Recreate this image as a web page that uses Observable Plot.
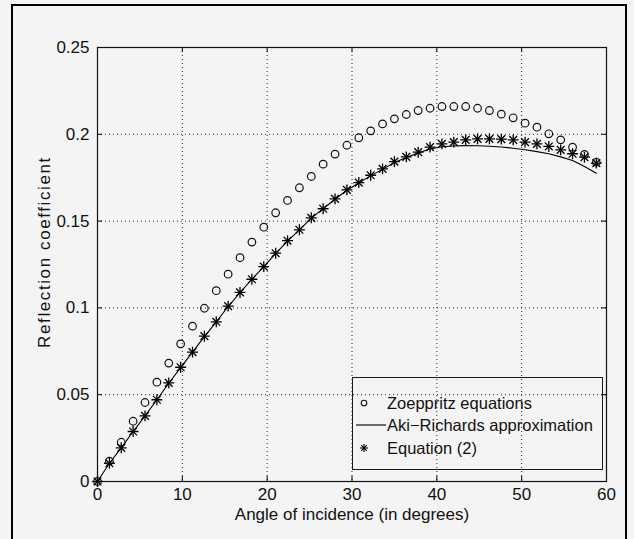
<!DOCTYPE html>
<html>
<head>
<meta charset="utf-8">
<script src="https://cdn.jsdelivr.net/npm/d3@7"></script>
<script src="https://cdn.jsdelivr.net/npm/@observablehq/plot@0.6"></script>
<style>
  html, body { margin: 0; padding: 0; background: #f4f4f4; }
  #wrap { position: relative; width: 634px; height: 539px; overflow: hidden; background: #f4f4f4; }
  #border { position: absolute; left: 11px; top: 4px; width: 616px; height: 600px; border: 2px solid #000; box-sizing: border-box; pointer-events: none; }
  #legend { position: absolute; left: 352px; top: 377px; width: 251px; height: 93px; border: 1px solid #1a1a1a; box-sizing: border-box; font: 16.5px "Liberation Sans", Arial, sans-serif; color: #111; }
  .row { position: absolute; left: 0; height: 22px; width: 100%; }
  .row svg { position: absolute; left: 3px; top: 0; }
  .row span { position: absolute; left: 34px; top: 2px; white-space: nowrap; line-height: 18px; }
</style>
</head>
<body>
<div id="wrap">
  <div id="chart"></div>
  <div id="legend"></div>
  <div id="border"></div>
</div>
<script>
// ---- data ----
const angles = [0, 1.4, 2.8, 4.2, 5.6, 7.0, 8.4, 9.8, 11.2, 12.6, 14.0, 15.4, 16.8, 18.2, 19.6,
  21.0, 22.4, 23.8, 25.2, 26.6, 28.0, 29.4, 30.8, 32.2, 33.6, 35.0, 36.4, 37.8, 39.2, 40.6,
  42.0, 43.4, 44.8, 46.2, 47.6, 49.0, 50.4, 51.8, 53.2, 54.6, 56.0, 57.4, 58.8];

const zoeppritz = [0, 0.0117, 0.0226, 0.0347, 0.0455, 0.0572, 0.0682, 0.0793, 0.0895, 0.0998,
  0.1099, 0.1194, 0.1289, 0.1379, 0.1465, 0.1548, 0.1619, 0.1692, 0.1757, 0.1828,
  0.1886, 0.1937, 0.1980, 0.2020, 0.2060, 0.2089, 0.2114, 0.2137, 0.2150, 0.2160,
  0.2160, 0.2160, 0.2150, 0.2137, 0.2116, 0.2095, 0.2064, 0.2041, 0.2003, 0.1968,
  0.1926, 0.1884, 0.1839];

const akiRichards = [0, 0.0105, 0.0194, 0.0288, 0.0378, 0.0471, 0.0566, 0.0656, 0.0745, 0.0835,
  0.0920, 0.1008, 0.1088, 0.1165, 0.1238, 0.1313, 0.1385, 0.1450, 0.1517, 0.1571,
  0.1626, 0.1678, 0.1720, 0.1762, 0.1798, 0.1838, 0.1866, 0.1893, 0.1915, 0.1928,
  0.1933, 0.1935, 0.1934, 0.1931, 0.1927, 0.1920, 0.1911, 0.1900, 0.1888, 0.1870,
  0.1849, 0.1815, 0.1776];

const equation2 = [0, 0.0105, 0.0194, 0.0288, 0.0378, 0.0471, 0.0568, 0.0658, 0.0745, 0.0837,
  0.0920, 0.1010, 0.1089, 0.1165, 0.1238, 0.1315, 0.1387, 0.1450, 0.1519, 0.1571,
  0.1628, 0.1680, 0.1722, 0.1764, 0.1801, 0.1843, 0.1870, 0.1897, 0.1926, 0.1945,
  0.1955, 0.1968, 0.1974, 0.1974, 0.1972, 0.1968, 0.1955, 0.1945, 0.1930, 0.1910,
  0.1888, 0.1868, 0.1834];

const xTicks = [0, 10, 20, 30, 40, 50, 60];
const yTicks = [0, 0.05, 0.1, 0.15, 0.2, 0.25];
const yTickLabels = ["0", "0.05", "0.1", "0.15", "0.2", "0.25"];

const seriesNames = ["Zoeppritz equations", "Aki\u2212Richards approximation", "Equation (2)"];
const xLabel = "Angle of incidence (in degrees)";
const yLabel = "Reflection coefficient";

// ---- chart ----
const toRows = vals => angles.map((a, i) => ({angle: a, value: vals[i]}));
const W = 634, H = 539, mL = 97, mR = 28, mT = 47, mB = 58;
const innerW = W - mL - mR, innerH = H - mT - mB;
const tickLen = 5;
const font = '"Liberation Sans", Arial, sans-serif';

const chart = Plot.plot({
  width: W, height: H,
  marginLeft: mL, marginRight: mR, marginTop: mT, marginBottom: mB,
  style: {background: "transparent", fontFamily: font, fontSize: "17px", color: "#111"},
  x: {domain: [0, 60]},
  y: {domain: [0, 0.25]},
  marks: [
    Plot.gridX(xTicks, {stroke: "#000", strokeOpacity: 0.85, strokeDasharray: "1,3"}),
    Plot.gridY(yTicks, {stroke: "#000", strokeOpacity: 0.85, strokeDasharray: "1,3"}),
    Plot.tickX(xTicks, {x: d => d, insetTop: innerH - tickLen, stroke: "#000"}),
    Plot.tickX(xTicks, {x: d => d, insetBottom: innerH - tickLen, stroke: "#000"}),
    Plot.tickY(yTicks, {y: d => d, insetRight: innerW - tickLen, stroke: "#000"}),
    Plot.tickY(yTicks, {y: d => d, insetLeft: innerW - tickLen, stroke: "#000"}),
    Plot.frame({stroke: "#111", strokeWidth: 1.2}),
    Plot.axisX(xTicks, {tickSize: 0, tickPadding: 6, fontSize: 17,
      label: xLabel, labelAnchor: "center", labelArrow: "none", labelOffset: 38}),
    Plot.axisY(yTicks, {tickSize: 0, tickPadding: 8, fontSize: 17,
      tickFormat: d => yTickLabels[yTicks.indexOf(d)],
      label: null}),
    Plot.line(toRows(akiRichards), {x: "angle", y: "value", stroke: "#000", strokeWidth: 1.1}),
    Plot.dot(toRows(zoeppritz), {x: "angle", y: "value", r: 3.8, stroke: "#111", fill: "none", strokeWidth: 1.2}),
    Plot.dot(toRows(equation2), {x: "angle", y: "value", symbol: "plus", r: 3.6, stroke: "#000", strokeWidth: 1.3}),
    Plot.dot(toRows(equation2), {x: "angle", y: "value", symbol: "times", r: 3.6, stroke: "#000", strokeWidth: 1.3})
  ]
});
document.getElementById("chart").appendChild(chart);

// y-axis title, placed with the chart's own frame geometry
const svg = d3.select(chart);
svg.append("text")
  .attr("transform", `translate(${mL - 47},${mT + innerH / 2 - 12}) rotate(-90)`)
  .attr("text-anchor", "middle")
  .attr("font-family", font)
  .attr("font-size", 17)
  .attr("letter-spacing", 1.6)
  .attr("fill", "#111")
  .text(yLabel);

// ---- legend (transparent box, like MATLAB) ----
const legend = document.getElementById("legend");
const symbols = [
  '<svg width="30" height="22"><circle cx="8" cy="11" r="2.8" fill="none" stroke="#111" stroke-width="1.1"/></svg>',
  '<svg width="30" height="22"><line x1="0" y1="11" x2="30" y2="11" stroke="#000" stroke-width="1.1"/></svg>',
  '<svg width="30" height="22"><g stroke="#000" stroke-width="1.1"><line x1="8" y1="7" x2="8" y2="15"/><line x1="4" y1="11" x2="12" y2="11"/><line x1="5.2" y1="8.2" x2="10.8" y2="13.8"/><line x1="5.2" y1="13.8" x2="10.8" y2="8.2"/></g></svg>'
];
seriesNames.forEach((name, i) => {
  const row = document.createElement("div");
  row.className = "row";
  row.style.top = (14 + i * 22.3) + "px";
  row.innerHTML = symbols[i] + "<span>" + name + "</span>";
  legend.appendChild(row);
});
</script>
</body>
</html>
